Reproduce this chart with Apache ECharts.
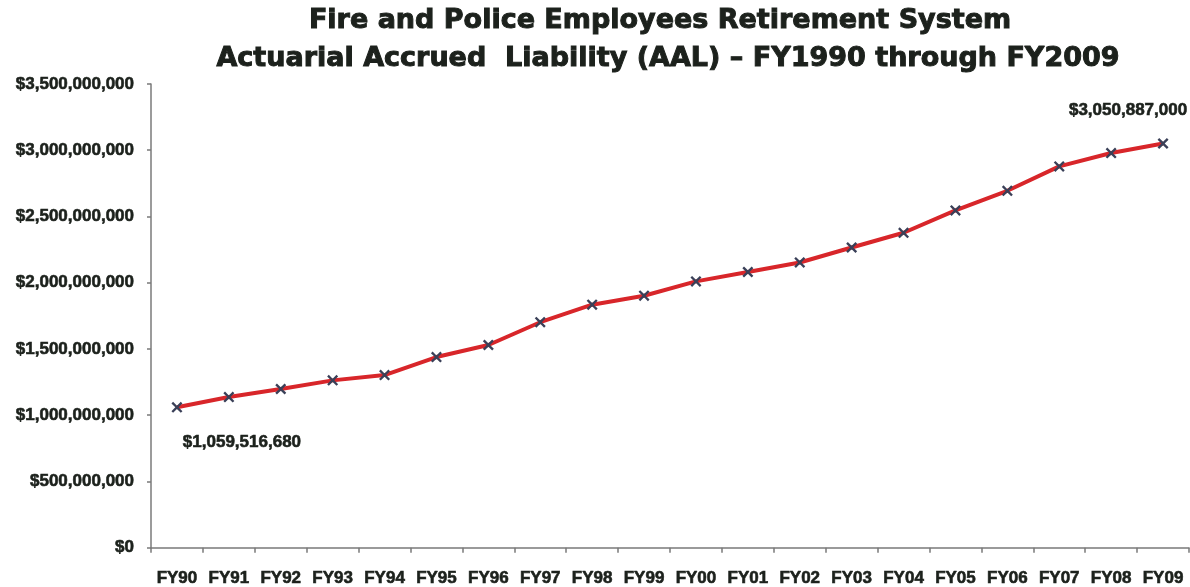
<!DOCTYPE html>
<html>
<head>
<meta charset="utf-8">
<script src="https://cdn.jsdelivr.net/npm/echarts@6/dist/echarts.min.js"></script>
<style>
html,body{margin:0;padding:0;background:#fff;}
#chart{width:1190px;height:587px;}
</style>
</head>
<body>
<div id="chart"></div>
<script>
const titleLines = ["Fire and Police Employees Retirement System", "Actuarial Accrued  Liability (AAL) \u2013 FY1990 through FY2009"];
const categories = ["FY90","FY91","FY92","FY93","FY94","FY95","FY96","FY97","FY98","FY99","FY00","FY01","FY02","FY03","FY04","FY05","FY06","FY07","FY08","FY09"];
const aalValues = [1059516680, 1137000000, 1198000000, 1263000000, 1303000000, 1439000000, 1530000000, 1702000000, 1834000000, 1902000000, 2010000000, 2081000000, 2153000000, 2266000000, 2377000000, 2546000000, 2694000000, 2878000000, 2979000000, 3050887000];
const yTicks = {min: 0, max: 3500000000, interval: 500000000};
const labeledPoints = {0: "$1,059,516,680", 19: "$3,050,887,000"};

const textColor = '#1c211c';
const fmt = v => '$' + Math.round(v).toLocaleString('en-US');
const xSym = 'path://M0,1.5 L1.5,0 L5,3.5 L8.5,0 L10,1.5 L6.5,5 L10,8.5 L8.5,10 L5,6.5 L1.5,10 L0,8.5 L3.5,5 Z';
const labelFont = {
  color: textColor,
  fontFamily: 'Liberation Sans, Arial, sans-serif',
  fontWeight: 'bold',
  fontSize: 17,
  textBorderColor: textColor,
  textBorderWidth: 0.6
};
const titleFont = {
  fontFamily: 'DejaVu Sans, sans-serif',
  fontWeight: 'bold',
  fontSize: 27,
  lineHeight: 34,
  color: textColor,
  textBorderColor: textColor,
  textBorderWidth: 1
};

const seriesData = aalValues.map((v, i) => {
  const d = {value: v};
  if (labeledPoints[i] !== undefined) {
    d.label = Object.assign({
      show: true,
      position: 'inside',
      align: 'center',
      verticalAlign: 'middle',
      offset: i === 0 ? [65, 35] : [-35, -33],
      formatter: labeledPoints[i]
    }, labelFont);
  }
  return d;
});

const chart = echarts.init(document.getElementById('chart'), null, {renderer: 'canvas'});
chart.setOption({
  backgroundColor: '#ffffff',
  animation: false,
  title: [
    {text: titleLines[0], left: 660, textAlign: 'center', top: 4, padding: 0, textStyle: titleFont},
    {text: titleLines[1], left: 668, textAlign: 'center', top: 42, padding: 0, textStyle: titleFont}
  ],
  grid: {left: 151, right: 1, top: 84, bottom: 38, containLabel: false},
  xAxis: {
    type: 'category',
    data: categories,
    boundaryGap: true,
    axisLine: {lineStyle: {color: '#7a7a7a', width: 1.5}},
    axisTick: {show: true, length: 5, alignWithLabel: false, lineStyle: {color: '#7a7a7a', width: 1.5}},
    axisLabel: Object.assign({margin: 22, interval: 0}, labelFont),
    splitLine: {show: false}
  },
  yAxis: {
    type: 'value',
    min: yTicks.min,
    max: yTicks.max,
    interval: yTicks.interval,
    axisLine: {show: true, lineStyle: {color: '#7a7a7a', width: 1.5}},
    axisTick: {show: true, length: 4, lineStyle: {color: '#7a7a7a', width: 1.5}},
    axisLabel: Object.assign({margin: 17, formatter: fmt}, labelFont),
    splitLine: {show: false}
  },
  series: [{
    type: 'line',
    data: seriesData,
    smooth: false,
    symbol: xSym,
    symbolSize: 11,
    showAllSymbol: true,
    lineStyle: {color: '#d8262a', width: 4, join: 'round'},
    itemStyle: {color: '#3a4058', borderWidth: 0},
    z: 3
  }]
});
</script>
</body>
</html>
